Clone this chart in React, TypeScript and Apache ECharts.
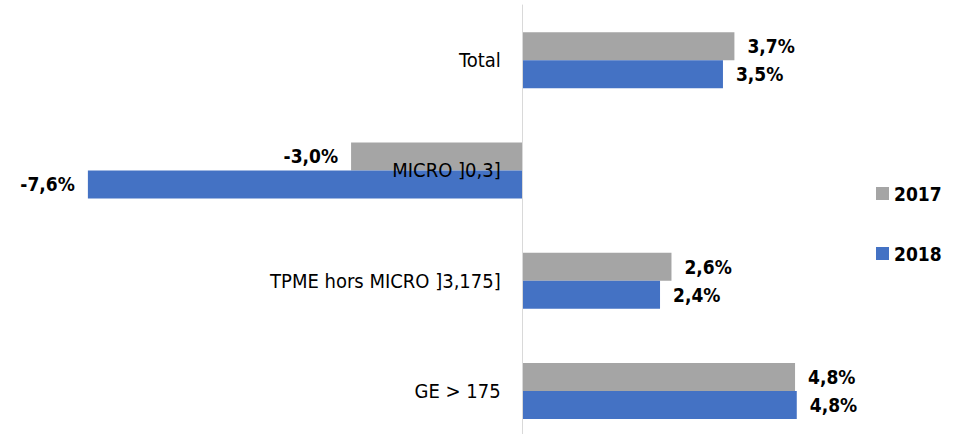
import React, { useEffect, useRef } from "react";
import * as echarts from "echarts";

const categories = ["Total", "MICRO ]0,3]", "TPME hors MICRO ]3,175]", "GE > 175"];
const series2017 = [3.7, -3.0, 2.6, 4.76];
const series2018 = [3.5, -7.6, 2.4, 4.79];
const seriesNames = ["2017", "2018"];

const FONT = "'DejaVu Sans Condensed', 'Liberation Sans Narrow', sans-serif";

const fmt = (v: number) => v.toFixed(1).replace(".", ",") + "%";

const GRID_LEFT = 65;
const GRID_WIDTH = 801;
const X_MIN = -8;
const X_MAX = 6;

export default function App() {
  const ref = useRef<HTMLDivElement>(null);
  useEffect(() => {
    if (!ref.current) return;
    const chart = echarts.init(ref.current, undefined, { renderer: "svg" });
    const zeroOffset = ((0 - X_MIN) / (X_MAX - X_MIN)) * GRID_WIDTH;
    const labelBase = {
      show: true,
      distance: 13,
      color: "#000",
      fontFamily: FONT,
      fontWeight: "bold" as any,
      fontSize: 19,
      formatter: (p: any) => fmt(p.value),
    };
    const mk = (name: string, data: number[], color: string) => ({
      name,
      type: "bar",
      barWidth: 28,
      barGap: "0%",
      itemStyle: { color },
      label: labelBase,
      data: data.map((v) => ({
        value: v,
        label: { position: v < 0 ? "left" : "right" },
      })),
    });
    chart.setOption({
      animation: false,
      backgroundColor: "#fff",
      grid: {
        left: GRID_LEFT,
        width: GRID_WIDTH,
        top: 5,
        height: 441,
        containLabel: false,
        outerBoundsMode: "none",
      },
      legend: {
        orient: "vertical",
        left: 871,
        top: 179,
        itemGap: 41,
        itemWidth: 13,
        itemHeight: 13,
        icon: "rect",
        data: seriesNames,
        textStyle: { fontFamily: FONT, fontWeight: "bold", fontSize: 19, color: "#000" },
      },
      xAxis: {
        type: "value",
        min: X_MIN,
        max: X_MAX,
        show: false,
        splitLine: { show: false },
      },
      yAxis: {
        type: "category",
        inverse: true,
        data: categories,
        z: 5,
        position: "left",
        offset: -zeroOffset,
        axisLine: { show: true, onZero: false, lineStyle: { color: "#d9d9d9", width: 1 } },
        axisTick: { show: false },
        axisLabel: {
          margin: 22,
          color: "#000",
          fontFamily: FONT,
          fontSize: 20,
        },
      },
      series: [
        mk(seriesNames[0], series2017, "#A5A5A5"),
        mk(seriesNames[1], series2018, "#4472C4"),
      ],
    });
    return () => chart.dispose();
  }, []);
  return <div ref={ref} style={{ width: 962, height: 434, position: "absolute", left: 0, top: 0 }} />;
}
